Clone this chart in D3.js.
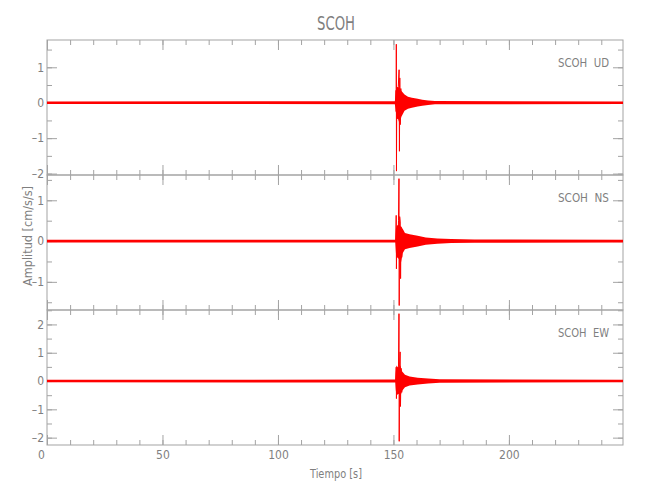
<!DOCTYPE html>
<html><head><meta charset="utf-8">
<script src="https://cdn.jsdelivr.net/npm/d3@7"></script>
<style>
body{margin:0;background:#fff}
text{font-family:"Liberation Sans Narrow","DejaVu Sans Condensed","Liberation Sans",sans-serif;fill:#7f7f7f}
</style></head><body>
<svg id="c" width="650" height="500"></svg>
<script>
// ---------- data ----------
const title = "SCOH";
const station = "SCOH";
const components = ["UD", "NS", "EW"];
const timeDomain = [0, 249.4];
const xMajorTicks = [0, 50, 100, 150, 200];
const yDomains = [[-2.04, 1.77], [-1.69, 1.62], [-2.26, 2.51]];

// background noise / coda envelope (time s, upper, lower) in cm/s/s
const udEnvT  = [0, 150.6, 151.0, 151.3, 152.0, 152.8, 153.4, 154.8, 156.3, 158.0, 160.5, 162.5, 165.0, 168.0, 249.4];
const udEnvHi = [0.036, 0.04, 0.25, 0.45, 0.44, 0.40, 0.34, 0.23, 0.17, 0.14, 0.11, 0.085, 0.065, 0.045, 0.036];
const udEnvLo = [-0.036, -0.04, -0.2, -0.45, -0.46, -0.62, -0.40, -0.23, -0.17, -0.14, -0.11, -0.085, -0.065, -0.045, -0.036];
const nsEnvT  = [0, 150.8, 151.1, 151.5, 152.5, 153.2, 154.0, 155.0, 157.0, 160.5, 164.0, 169.0, 175.0, 185.0, 249.4];
const nsEnvHi = [0.032, 0.035, 0.3, 0.38, 0.40, 0.35, 0.30, 0.20, 0.17, 0.13, 0.09, 0.065, 0.05, 0.04, 0.032];
const nsEnvLo = [-0.032, -0.035, -0.3, -0.38, -0.45, -0.55, -0.30, -0.20, -0.17, -0.13, -0.09, -0.065, -0.05, -0.04, -0.032];
const ewEnvT  = [0, 150.8, 151.0, 151.3, 152.3, 153.0, 153.7, 155.0, 157.0, 160.5, 165.0, 170.0, 249.4];
const ewEnvHi = [0.046, 0.05, 0.3, 0.55, 0.45, 0.55, 0.35, 0.22, 0.16, 0.12, 0.09, 0.06, 0.046];
const ewEnvLo = [-0.046, -0.05, -0.3, -0.5, -0.45, -0.55, -0.35, -0.22, -0.16, -0.12, -0.09, -0.06, -0.046];

// main oscillations around the arrival (time s, value)
const udSpikeT = [151.0, 151.15, 151.2, 151.25, 151.32, 151.45, 151.7, 152.1, 152.45, 152.6, 152.75, 152.95, 153.2, 153.5, 153.8, 154.1];
const udSpikeV = [0, 0.35, -0.25, 1.65, -1.93, 0.3, -0.35, 0.45, 0.93, -1.37, 0.7, -0.62, 0.4, -0.3, 0.2, 0];
const nsSpikeT = [151.0, 151.2, 151.3, 151.5, 151.8, 152.2, 152.4, 152.5, 152.7, 152.95, 153.1, 153.3, 153.6, 154.0, 154.4, 154.8];
const nsSpikeV = [0, 0.63, -0.68, 0.3, -0.4, 0.5, 1.53, -1.58, 0.6, 0.47, -0.92, 0.35, -0.4, 0.25, -0.2, 0];
const ewSpikeT = [151.0, 151.2, 151.3, 151.5, 151.8, 152.2, 152.4, 152.5, 152.7, 152.9, 153.05, 153.3, 153.6, 154.0, 154.4, 154.8];
const ewSpikeV = [0, 0.49, -0.62, 0.3, -0.35, 0.5, 2.38, -2.13, 0.6, 1.03, -0.9, 0.45, -0.4, 0.25, -0.2, 0];

// ---------- drawing ----------
const left = 47, right = 623, top0 = 40, panelH = 135;
const axisCol = "#a3a3a3";
const textCol = "#7f7f7f";
const svg = d3.select("#c");

const x = d3.scaleLinear().domain(timeDomain).range([left, right]);
const xMinor = d3.range(0, timeDomain[1], 10);

const envs = [[udEnvT, udEnvHi, udEnvLo], [nsEnvT, nsEnvHi, nsEnvLo], [ewEnvT, ewEnvHi, ewEnvLo]];
const spikes = [[udSpikeT, udSpikeV], [nsSpikeT, nsSpikeV], [ewSpikeT, ewSpikeV]];

const fmt = v => v < 0 ? "\u2013" + Math.abs(v) : String(v);

components.forEach((comp, i) => {
  const y0 = top0 + i * panelH, y1 = y0 + panelH;
  const y = d3.scaleLinear().domain(yDomains[i]).range([y1, y0]);
  const g = svg.append("g");

  const clipId = "clip" + i;
  svg.append("clipPath").attr("id", clipId).append("rect")
    .attr("x", left).attr("y", y0).attr("width", right - left).attr("height", panelH);

  const yMajor = d3.range(Math.ceil(yDomains[i][0]), Math.floor(yDomains[i][1]) + 1);
  const yMinor = d3.range(Math.ceil(yDomains[i][0] * 2) / 2, yDomains[i][1], 0.5);

  function axes(sel, axis) { sel.call(axis); sel.select(".domain").remove(); sel.selectAll("line").attr("stroke", axisCol); }

  g.append("g").attr("transform", `translate(${left},0)`)
    .call(s => axes(s, d3.axisLeft(y).tickValues(yMinor).tickSize(-5).tickFormat("")));
  g.append("g").attr("transform", `translate(${left},0)`)
    .call(s => axes(s, d3.axisLeft(y).tickValues(yMajor).tickSize(-10).tickPadding(3).tickFormat(fmt)))
    .call(s => s.selectAll("text").attr("fill", textCol).style("font-size", "12px"));
  g.append("g").attr("transform", `translate(${right},0)`)
    .call(s => axes(s, d3.axisRight(y).tickValues(yMinor).tickSize(-5).tickFormat("")));
  g.append("g").attr("transform", `translate(${right},0)`)
    .call(s => axes(s, d3.axisRight(y).tickValues(yMajor).tickSize(-10).tickFormat("")));

  g.append("g").attr("transform", `translate(0,${y0})`)
    .call(s => axes(s, d3.axisTop(x).tickValues(xMinor).tickSize(-5).tickFormat("")));
  g.append("g").attr("transform", `translate(0,${y0})`)
    .call(s => axes(s, d3.axisTop(x).tickValues(xMajorTicks).tickSize(-10).tickFormat("")));
  g.append("g").attr("transform", `translate(0,${y1})`)
    .call(s => axes(s, d3.axisBottom(x).tickValues(xMinor).tickSize(-5).tickFormat("")));
  const last = i === components.length - 1;
  const xb = g.append("g").attr("transform", `translate(0,${y1})`)
    .call(s => axes(s, d3.axisBottom(x).tickValues(xMajorTicks).tickSize(-10).tickPadding(5)
      .tickFormat(last ? d3.format("d") : () => "")));
  if (last) {
    xb.selectAll("text").attr("fill", textCol).style("font-size", "12px")
      .attr("dx", d => d === 0 ? -6 : 0);
  }

  g.append("rect").attr("x", left).attr("y", y0).attr("width", right - left).attr("height", panelH)
    .attr("fill", "none").attr("stroke", axisCol).attr("stroke-width", 1);

  const [et, eh, el] = envs[i];
  const envData = et.map((t, k) => ({t, hi: eh[k], lo: el[k]}));
  const tr = g.append("g").attr("clip-path", `url(#${clipId})`);
  tr.append("path").datum(envData)
    .attr("d", d3.area().x(d => x(d.t)).y0(d => y(d.lo)).y1(d => y(d.hi)))
    .attr("fill", "#ff0000");
  const [st, sv] = spikes[i];
  tr.append("path").datum(st.map((t, k) => ({t, v: sv[k]})))
    .attr("d", d3.line().x(d => x(d.t)).y(d => y(d.v)))
    .attr("fill", "none").attr("stroke", "#ff0000").attr("stroke-width", 1);

  g.append("text").attr("x", 609).attr("y", y0 + 27).attr("text-anchor", "end")
    .style("font-size", "13px").attr("textLength", 51).attr("lengthAdjust", "spacingAndGlyphs")
    .text(station + "\u00a0\u00a0" + comp);
});

svg.append("text").attr("x", 336).attr("y", 30).attr("text-anchor", "middle")
  .style("font-size", "19px").attr("textLength", 38).attr("lengthAdjust", "spacingAndGlyphs").text(title);
svg.append("text").attr("x", 336).attr("y", 478).attr("text-anchor", "middle")
  .style("font-size", "13px").attr("textLength", 52).attr("lengthAdjust", "spacingAndGlyphs").text("Tiempo [s]");
svg.append("text").attr("transform", "translate(32,236) rotate(-90)").attr("text-anchor", "middle")
  .style("font-size", "13px").attr("textLength", 100).attr("lengthAdjust", "spacingAndGlyphs").text("Amplitud [cm/s/s]");
</script></body></html>
